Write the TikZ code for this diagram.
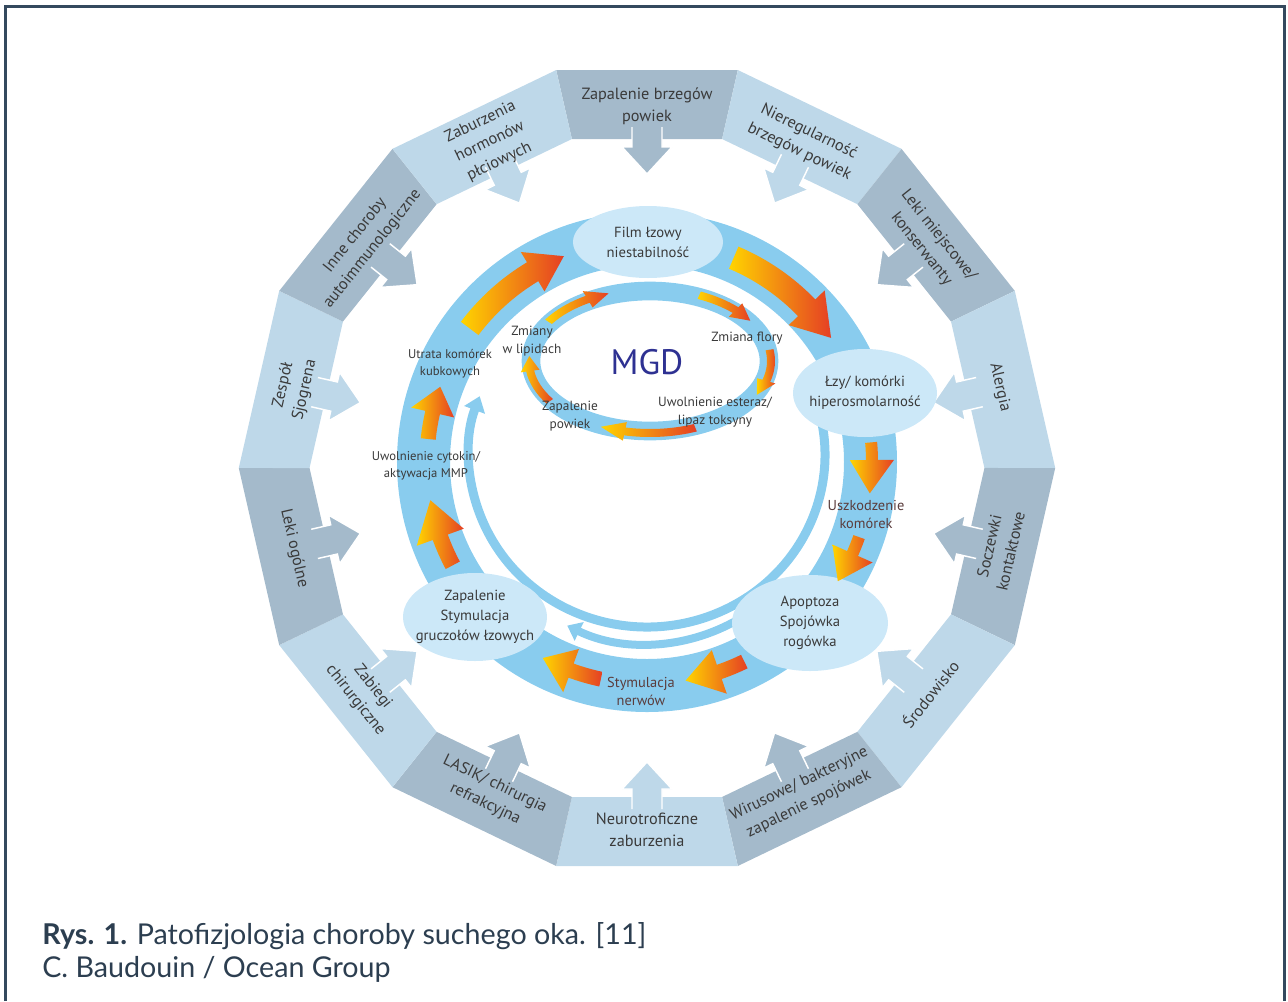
\documentclass[tikz,border=0pt]{standalone}
\usepackage{fontspec}
\setmainfont{PT Sans}
\newfontfamily\capfont{Lato}
\usetikzlibrary{shapes.geometric,arrows.meta}

\definecolor{segdark}{HTML}{A4BACB}
\definecolor{seglight}{HTML}{BED8E9}
\definecolor{ringblue}{HTML}{89CCEE}
\definecolor{ovalblue}{HTML}{CCE8F8}
\definecolor{txtgray}{HTML}{3A3A3A}
\definecolor{txtbrown}{HTML}{5A3C3C}
\definecolor{mgdblue}{HTML}{2E3192}
\definecolor{fyellow}{HTML}{FFD400}
\definecolor{forange}{HTML}{F7931E}
\definecolor{fred}{HTML}{E53F24}
\definecolor{framecol}{HTML}{34495E}
\definecolor{captxt}{HTML}{2C3E50}

% fat arrow running along an elliptic track
% {centre}{rx}{ry}{tail angle}{head base angle}{tip angle}{shaft width}{head width}
\newcommand{\bandarrow}[8]{%
  \pgfmathsetmacro\axi{#2-#7/2}\pgfmathsetmacro\ayi{#3-#7/2}%
  \pgfmathsetmacro\axo{#2+#7/2}\pgfmathsetmacro\ayo{#3+#7/2}%
  \pgfmathsetmacro\hxi{#2-#8/2}\pgfmathsetmacro\hyi{#3-#8/2}%
  \pgfmathsetmacro\hxo{#2+#8/2}\pgfmathsetmacro\hyo{#3+#8/2}%
  \path[fire,shift={(#1)}] ({\axi*cos(#4)},{\ayi*sin(#4)})
    arc[start angle=#4,end angle=#5,x radius=\axi,y radius=\ayi]
    -- ({\hxi*cos(#5)},{\hyi*sin(#5)}) -- ({#2*cos(#6)},{#3*sin(#6)})
    -- ({\hxo*cos(#5)},{\hyo*sin(#5)}) -- ({\axo*cos(#5)},{\ayo*sin(#5)})
    arc[start angle=#5,end angle=#4,x radius=\axo,y radius=\ayo] -- cycle;}

\tikzset{
  seglabel/.style={align=center, text=txtgray, inner sep=0pt, font=\fontsize{12.2}{16.5}\selectfont},
  oval/.style={ellipse, fill=ovalblue, inner sep=0pt},
  ovaltext/.style={align=center, text=txtgray, inner sep=0pt, font=\fontsize{11}{15}\selectfont},
  ringlabel/.style={align=center, text=txtgray, inner sep=0pt, font=\fontsize{9.5}{12.5}\selectfont},
  mgdlabel/.style={align=center, text=txtgray, inner sep=0pt, font=\fontsize{10}{13.5}\selectfont},
  fire/.style={left color=fyellow, middle color=forange, right color=fred},
  lane/.style={draw=ringblue, line width=6.75pt},
}

\begin{document}
\begin{tikzpicture}[x=0.75pt,y=0.75pt]
\useasboundingbox (-647,-533) rectangle (641,468);

% Rahmen
\draw[framecol, line width=2.25pt] (-641.5,-533) -- (-641.5,461.5) -- (637.5,461.5) -- (637.5,-533);

% outer ring, 14 segments with inward arrows
\foreach \lbl [count=\k from 0] in {{Zapalenie brzegów\\powiek}, {Nieregularność\\brzegów powiek},
    {Leki miejscowe/\\konserwanty}, {Alergia}, {Soczewki\\kontaktowe}, {Środowisko},
    {Wirusowe/ bakteryjne\\zapalenie spojówek}, {Neurotroficzne\\zaburzenia},
    {LASIK/ chirurgia\\refrakcyjna}, {Zabiegi\\chirurgiczne}, {Leki ogólne},
    {Zespół\\Sjogrena}, {Inne choroby\\autoimmunologiczne}, {Zaburzenia\\hormonów\\płciowych}}{
  \pgfmathsetmacro\a{90-\k*360/14}
  \pgfmathsetmacro\tr{(\k>3 && \k<11) ? \a+90 : \a-90}
  \ifodd\k \def\segcol{seglight}\else\def\segcol{segdark}\fi
  \begin{scope}[rotate=\a-90]
    \fill[\segcol] (-90.8,398) -- (90.8,398) -- (75.1,329) -- (-75.1,329) -- cycle;
    \fill[\segcol] (-15,341) -- (-15,321) -- (-25,321) -- (0,294) -- (25,321) -- (15,321) -- (15,341) -- cycle;
    \draw[white, line width=1.1pt] (-15,341) -- (-15,321) -- (-25,321) -- (0,294) -- (25,321) -- (15,321) -- (15,341);
  \end{scope}
  \node[seglabel, rotate=\tr] (seg\k) at (\a:362) {\lbl};
}

% big ring
\fill[ringblue, even odd rule] (0,6) circle[radius=250] (0,6) circle[radius=197];

% inner lanes
\draw[lane, -{Triangle[width=16pt,length=11pt]}] ({178*cos(25)},{13+172*sin(25)})
  arc[start angle=25,end angle=-200,x radius=178,y radius=172];
\draw[lane, line width=6pt, -{Triangle[width=15pt,length=10pt]}] ({182*cos(-60)},{6+182*sin(-60)})
  arc[start angle=-60,end angle=-116,radius=182];

% MGD ring
\draw[ringblue, line width=14pt] (3,107) ellipse[x radius=119, y radius=70];

% ovals on the big ring
\node[oval, minimum width=112.5pt, minimum height=54pt] (film) at (1,226) {};
\node[oval, minimum width=108pt, minimum height=66pt] (lzy) at (218,75) {};
\node[oval, minimum width=117pt, minimum height=72pt] (apop) at (163,-155) {};
\node[oval, minimum width=108pt, minimum height=66pt] (zapal) at (-172,-149) {};
\node[ovaltext] (filmtxt) at (film) {Film łzowy\\niestabilność};
\node[ovaltext] (lzytxt) at (lzy) {Łzy/ komórki\\hiperosmolarność};
\node[ovaltext] (apoptxt) at (apop) {Apoptoza\\Spojówka\\rogówka};
\node[ovaltext] (zapaltxt) at (zapal) {Zapalenie\\Stymulacja\\gruczołów łzowych};

% orange arrows, big ring
\bandarrow{0,6}{222}{222}{143}{121}{112}{22}{46}
\bandarrow{0,6}{222}{222}{67}{44}{34}{24}{50}
\bandarrow{0,6}{225}{225}{5}{0.5}{-8}{12}{44}
\bandarrow{0,6}{225}{225}{-19.5}{-24}{-32}{12}{44}
\bandarrow{0,6}{222}{222}{-64}{-71}{-80}{15}{46}
\bandarrow{0,6}{222}{222}{-102}{-110}{-118}{15}{46}
\bandarrow{0,6}{220}{220}{208}{200}{190}{16}{50}
\bandarrow{0,6}{220}{220}{174}{167}{160}{15}{44}

% orange arrows, MGD ring
\bandarrow{3,107}{121}{72}{147}{121}{110}{8}{19}
\bandarrow{3,107}{121}{72}{66}{45}{34}{8}{19}
\bandarrow{3,107}{121}{72}{9}{-16}{-28}{8}{19}
\bandarrow{3,107}{121}{72}{-68}{-102}{-114}{8}{19}
\bandarrow{3,107}{121}{72}{214}{188}{176}{8}{19}

% labels
\node[font=\fontsize{26.5}{30}\selectfont, text=mgdblue, inner sep=0pt] (mgd) at (0,106) {MGD};
\node[ringlabel] (utrata) at (-197,104) {Utrata komórek\\kubkowych};
\node[ringlabel] (cytokin) at (-221,2) {Uwolnienie cytokin/\\aktywacja MMP};
\node[ringlabel, text=txtbrown, font=\fontsize{10.8}{13.5}\selectfont] (uszk) at (219,-46) {Uszkodzenie\\komórek};
\node[ringlabel, text=txtbrown, font=\fontsize{10.8}{13.5}\selectfont] (stym) at (-6,-223) {Stymulacja\\nerwów};
\node[mgdlabel] (flory) at (100,130) {Zmiana flory};
\node[mgdlabel] (esteraz) at (68,56) {Uwolnienie esteraz/\\lipaz toksyny};
\node[mgdlabel] (powiek) at (-77,52) {Zapalenie\\powiek};
\node[mgdlabel] (lipidy) at (-115,127) {Zmiany\\w lipidach};

% Bildunterschrift
\node[anchor=base west, inner sep=0pt, text=captxt, font=\capfont\fontsize{21.5}{24}\selectfont] (cap1) at (-605,-476)
  {\textbf{Rys. 1.} Patofizjologia choroby suchego oka. [11]};
\node[anchor=base west, inner sep=0pt, text=captxt, font=\capfont\fontsize{21.5}{24}\selectfont] (cap2) at (-605,-509)
  {C. Baudouin / Ocean Group};
\end{tikzpicture}
\end{document}
